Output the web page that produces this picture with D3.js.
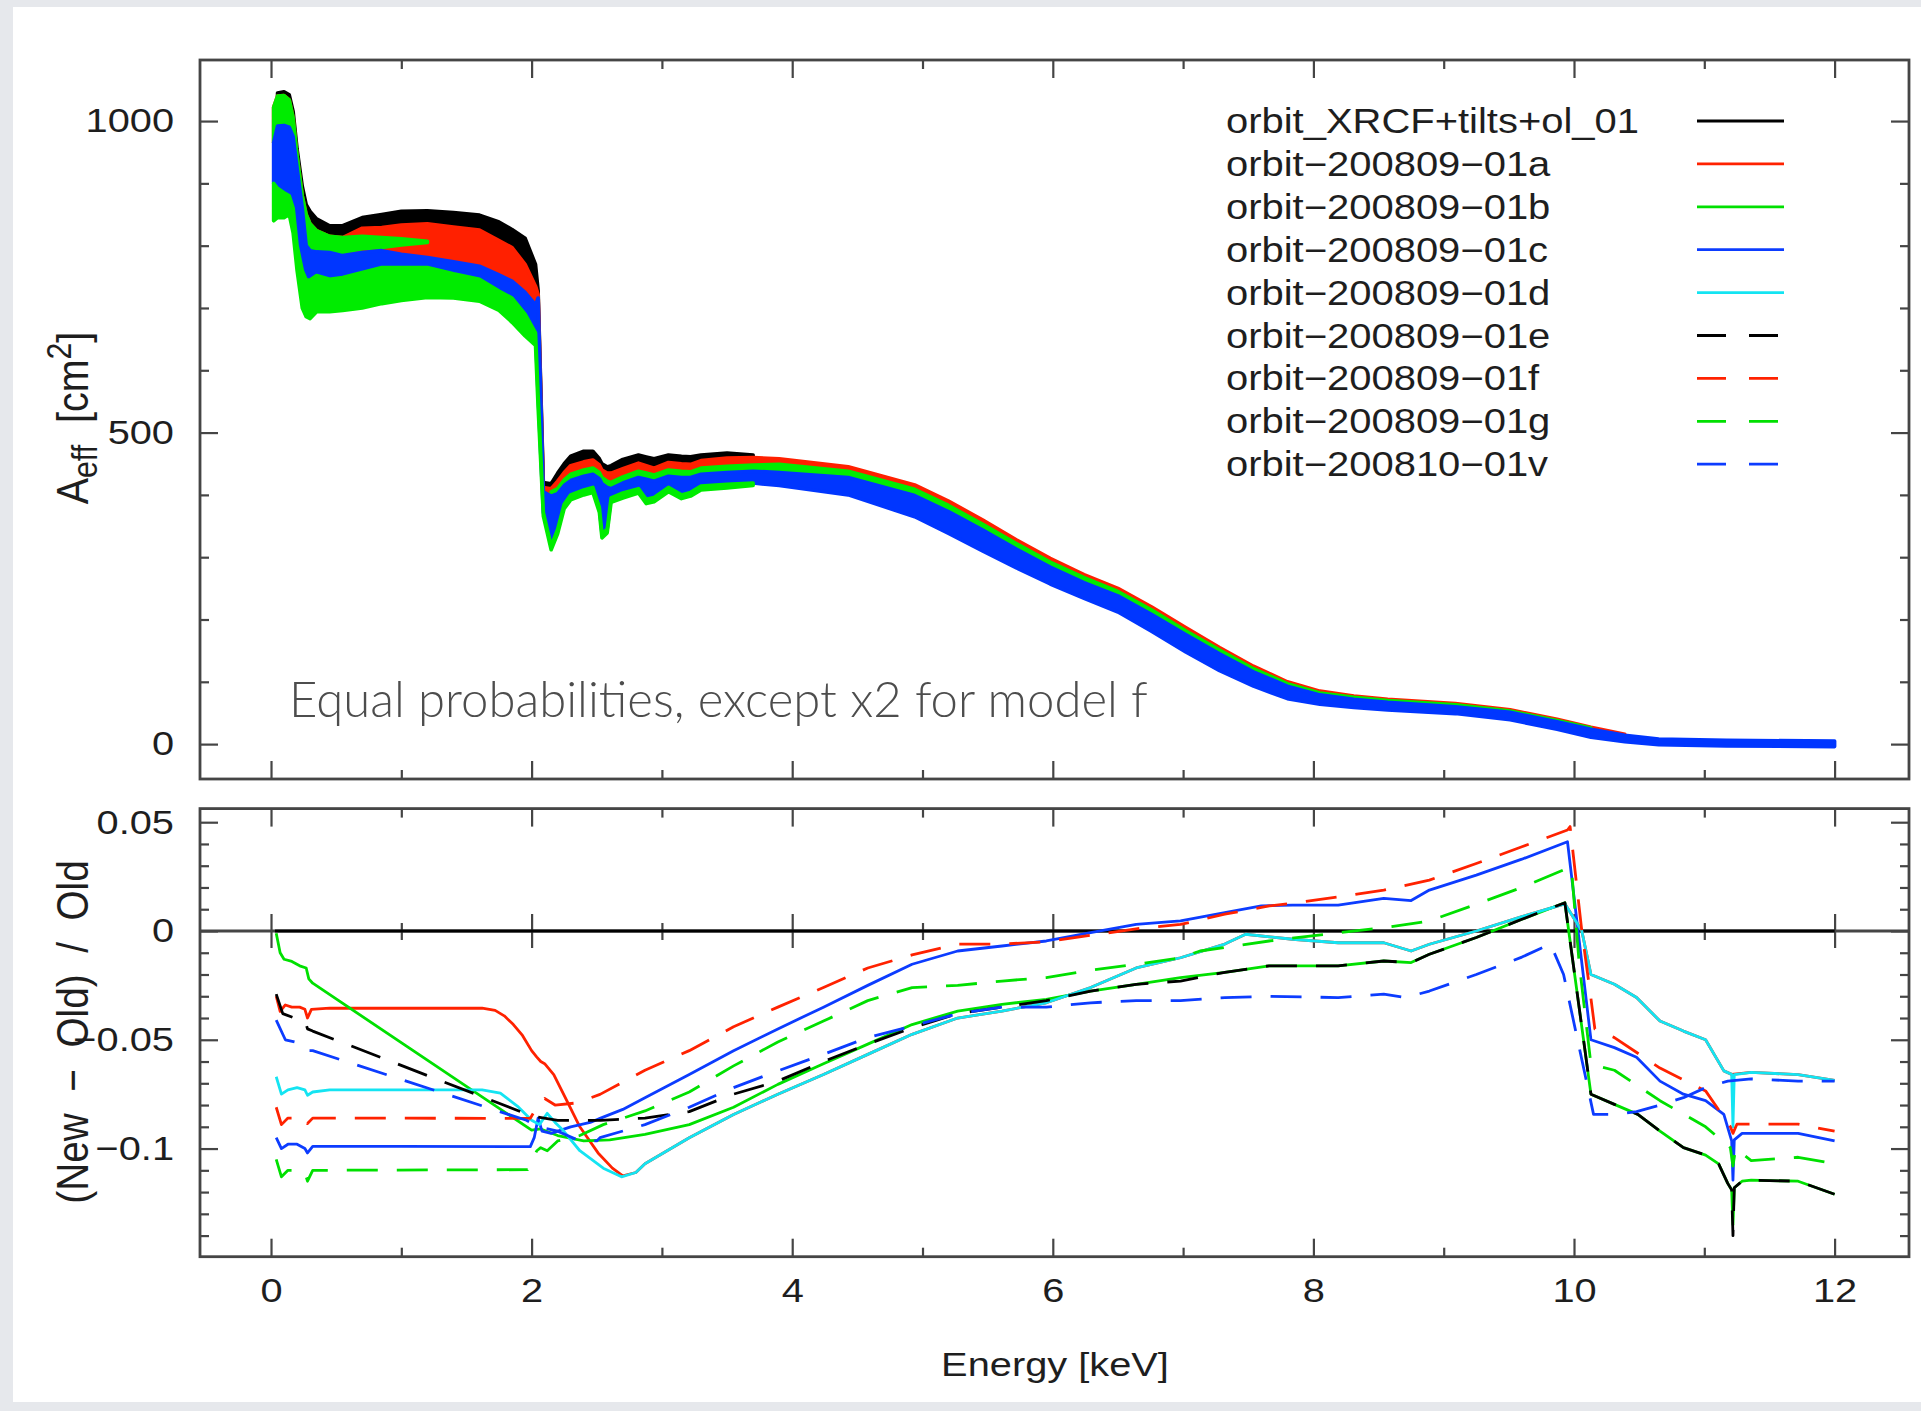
<!DOCTYPE html>
<html>
<head>
<meta charset="utf-8">
<script src="https://cdn.jsdelivr.net/npm/d3@7"></script>
<style>
  html, body { margin: 0; padding: 0; background: #e6e8ec; }
  svg { display: block; }
</style>
</head>
<body>
<svg id="chart" width="1921" height="1411"></svg>
<script>
// ---------------------------------------------------------------
// Effective area bands (cm^2) on a shared energy grid (keV).
// Each band is the region between two edges; drawn back to front.
// ---------------------------------------------------------------
const energyGrid = [0.02,0.05,0.10,0.14,0.17,0.20,0.24,0.27,0.30,0.35,0.45,0.55,0.70,0.85,1.00,1.20,1.40,1.60,1.75,1.85,1.95,2.03,2.05,2.09,2.15,2.20,2.25,2.30,2.40,2.47,2.52,2.54,2.58,2.61,2.70,2.82,2.88,2.94,3.05,3.15,3.22,3.30,3.50,3.70,3.90,4.43,4.94,5.20,5.46,5.72,5.98,6.24,6.50,6.76,7.02,7.28,7.54,7.80,8.05,8.31,8.57,9.09,9.51,9.87,10.13,10.39,10.65,11.17,12.00];

// upper edge of the black band
const aeffTopEdge = [1022,1045,1047,1042,1015,955,895,866,855,843,832,832,845,850,855,856,853,849,838,826,812,770,728,420,418,435,450,462,470,470,458,450,445,447,457,464,461,458,464,462,461,464,467,464,458,445,416,390,360,328,298,272,250,220,187,155,125,100,85,77,72,65,55,40,27,16,9,6,5];
// black / red boundary
const aeffBlackRed = [1022,1040,1041,1034,1005,945,880,850,835,824,815,813,828,829,833,835,830,825,808,797,770,735,722,412,410,422,436,447,453,456,448,440,435,435,442,451,447,443,452,450,449,455,459,460,458,445,416,390,360,328,298,272,250,220,187,155,125,100,85,77,72,65,55,40,27,16,9,6,5];
// red / blue boundary
const aeffRedBlue = [965,992,993,990,975,925,860,800,792,790,789,784,789,792,786,781,774,767,753,743,725,705,716,405,398,402,415,423,430,433,426,418,412,410,419,428,425,422,430,428,428,433,436,438,436,428,399,373,344,313,284,259,238,208,176,145,116,93,79,72,67,60,51,36,24,14,8,6,5];
// green strip (model b) upper and lower edges
const aeffStripHigh = [1022,1040,1041,1034,1005,945,880,850,835,824,815,813,815,813,811,807,774,767,753,743,725,705,716,405,405,410,424,433,440,443,436,428,422,420,429,438,435,432,440,438,437,443,446,448,449,438,409,383,353,322,292,267,245,215,182,151,121,97,82,75,70,63,53,38,26,15,8,6,5];
const aeffStripLow = [965,992,993,990,975,925,860,800,792,790,789,789,795,797,801,805,774,767,753,743,725,705,716,405,398,402,415,423,430,433,426,418,412,410,419,428,425,422,430,428,428,433,436,438,436,428,399,373,344,313,284,259,238,208,176,145,116,93,79,72,67,60,51,36,24,14,8,6,5];
// blue / lower green boundary
const aeffBlueGreen = [900,892,885,880,860,800,760,745,745,752,746,749,757,765,765,765,755,746,727,716,690,660,560,372,318,345,385,400,408,412,380,338,345,395,403,410,393,396,412,400,404,414,417,419,415,400,365,338,310,283,257,234,212,181,148,118,93,73,64,59,55,49,39,24,11,4,-1,-3,-4];
// lower edge of the lower green band
const aeffBottomEdge = [840,845,845,850,820,760,700,686,683,694,694,696,700,707,712,717,716,711,696,677,655,640,540,366,312,338,378,392,400,404,372,331,339,388,395,403,386,389,405,394,398,408,411,415,414,400,365,338,310,283,257,234,212,181,148,118,93,73,64,59,55,49,39,24,11,4,-1,-3,-4];

// ---------------------------------------------------------------
// Relative difference (New - Old) / Old per model, [keV, ratio]
// ---------------------------------------------------------------
const ratioOld = [[0.03,0],[12.0,0]];
const ratioA = [[0.04,-0.030],[0.07,-0.037],[0.11,-0.034],[0.16,-0.035],[0.22,-0.035],[0.26,-0.036],[0.28,-0.040],[0.31,-0.036],[0.45,-0.0355],[1.00,-0.0355],[1.62,-0.0355],[1.72,-0.0365],[1.79,-0.039],[1.86,-0.043],[1.93,-0.048],[2.00,-0.055],[2.04,-0.058],[2.07,-0.060],[2.10,-0.061],[2.17,-0.066],[2.27,-0.078],[2.37,-0.090],[2.51,-0.102],[2.62,-0.109],[2.70,-0.1125],[2.80,-0.111],[2.87,-0.107],[3.21,-0.095],[3.55,-0.0843],[3.89,-0.075],[4.24,-0.066],[4.58,-0.0567],[4.92,-0.0475],[5.27,-0.040],[5.61,-0.0368],[5.95,-0.033],[6.29,-0.026],[6.64,-0.017],[6.98,-0.0123],[7.32,-0.006],[7.48,-0.0015],[7.84,-0.0038],[8.19,-0.0054],[8.54,-0.0054],[8.75,-0.0092],[8.89,-0.0061],[9.25,0.0],[9.60,0.0066],[9.93,0.0125],[10.06,0.0],[10.13,-0.020],[10.31,-0.0245],[10.48,-0.0306],[10.66,-0.0414],[10.84,-0.046],[11.01,-0.050],[11.15,-0.0643],[11.21,-0.0659],[11.36,-0.065],[11.72,-0.066],[12.0,-0.0687]];
const ratioB = [[0.04,-0.001],[0.07,-0.010],[0.10,-0.013],[0.16,-0.014],[0.22,-0.016],[0.27,-0.017],[0.29,-0.022],[0.32,-0.024],[2.00,-0.0915],[2.07,-0.091],[2.20,-0.094],[2.40,-0.0965],[2.60,-0.096],[2.87,-0.0935],[3.21,-0.089],[3.55,-0.081],[3.89,-0.0705],[4.24,-0.061],[4.58,-0.052],[4.92,-0.043],[5.27,-0.0368],[5.61,-0.0337],[5.95,-0.0314],[6.29,-0.0276],[6.64,-0.0245],[6.98,-0.0214],[7.32,-0.019],[7.66,-0.016],[8.19,-0.016],[8.54,-0.0138],[8.75,-0.0145],[8.89,-0.0107],[9.25,-0.003],[9.60,0.0054],[9.93,0.013],[10.13,-0.075],[10.31,-0.0797],[10.49,-0.0843],[10.66,-0.092],[10.84,-0.0996],[11.01,-0.103],[11.11,-0.107],[11.18,-0.116],[11.21,-0.119],[11.22,-0.135],[11.23,-0.118],[11.29,-0.115],[11.36,-0.1145],[11.72,-0.115],[12.0,-0.121]];
const ratioC = [[0.04,-0.095],[0.08,-0.100],[0.13,-0.098],[0.20,-0.098],[0.26,-0.100],[0.28,-0.102],[0.32,-0.099],[1.00,-0.099],[1.99,-0.0991],[2.02,-0.095],[2.05,-0.086],[2.08,-0.092],[2.15,-0.093],[2.30,-0.090],[2.45,-0.088],[2.53,-0.086],[2.70,-0.082],[2.87,-0.0766],[3.21,-0.066],[3.55,-0.055],[3.89,-0.045],[4.24,-0.035],[4.58,-0.025],[4.92,-0.0153],[5.27,-0.0092],[5.61,-0.0069],[5.95,-0.0046],[6.29,-0.0008],[6.64,0.003],[6.98,0.0046],[7.32,0.0084],[7.60,0.0115],[7.84,0.0119],[8.19,0.0119],[8.54,0.015],[8.75,0.014],[8.89,0.0188],[9.25,0.0257],[9.60,0.033],[9.95,0.041],[10.13,-0.050],[10.31,-0.0536],[10.48,-0.058],[10.66,-0.069],[10.84,-0.075],[11.01,-0.078],[11.15,-0.0843],[11.21,-0.0965],[11.22,-0.1145],[11.23,-0.096],[11.29,-0.093],[11.72,-0.093],[12.0,-0.0965]];
const ratioD = [[0.04,-0.067],[0.08,-0.075],[0.13,-0.073],[0.20,-0.072],[0.26,-0.073],[0.28,-0.0755],[0.32,-0.074],[0.45,-0.073],[1.62,-0.073],[1.76,-0.0745],[1.90,-0.081],[2.00,-0.087],[2.06,-0.089],[2.12,-0.0838],[2.18,-0.088],[2.24,-0.0915],[2.37,-0.101],[2.55,-0.109],[2.69,-0.113],[2.80,-0.111],[2.87,-0.107],[3.21,-0.095],[3.55,-0.0843],[3.89,-0.075],[4.24,-0.066],[4.58,-0.0567],[4.92,-0.0475],[5.27,-0.040],[5.61,-0.0368],[5.95,-0.033],[6.29,-0.026],[6.64,-0.017],[6.98,-0.0123],[7.32,-0.006],[7.48,-0.0015],[7.84,-0.0038],[8.19,-0.0054],[8.54,-0.0054],[8.75,-0.0092],[8.89,-0.0061],[9.25,0.0],[9.60,0.0066],[9.93,0.0125],[10.06,0.0],[10.13,-0.020],[10.31,-0.0245],[10.48,-0.0306],[10.66,-0.0414],[10.84,-0.046],[11.01,-0.050],[11.15,-0.0643],[11.21,-0.0659],[11.22,-0.090],[11.23,-0.066],[11.36,-0.065],[11.72,-0.066],[12.0,-0.0687]];
const ratioE = [[0.04,-0.029],[0.09,-0.038],[0.18,-0.040],[0.26,-0.041],[0.28,-0.045],[0.32,-0.046],[2.00,-0.085],[2.20,-0.087],[2.53,-0.087],[2.87,-0.086],[3.21,-0.083],[3.55,-0.075],[3.89,-0.069],[4.24,-0.060],[4.58,-0.052],[4.92,-0.0445],[5.27,-0.038],[5.61,-0.035],[5.95,-0.032],[6.29,-0.0276],[6.64,-0.0245],[6.98,-0.023],[7.32,-0.019],[7.66,-0.016],[8.19,-0.016],[8.54,-0.0138],[8.75,-0.0145],[8.89,-0.0107],[9.25,-0.003],[9.60,0.0054],[9.93,0.013],[10.13,-0.075],[10.31,-0.0797],[10.49,-0.0843],[10.66,-0.092],[10.84,-0.0996],[11.01,-0.103],[11.11,-0.107],[11.18,-0.116],[11.21,-0.119],[11.22,-0.140],[11.23,-0.118],[11.29,-0.115],[11.36,-0.1145],[11.72,-0.115],[12.0,-0.121]];
const ratioF = [[0.04,-0.081],[0.08,-0.089],[0.13,-0.086],[0.22,-0.086],[0.26,-0.086],[0.28,-0.0885],[0.32,-0.086],[1.99,-0.0861],[2.05,-0.080],[2.10,-0.077],[2.18,-0.080],[2.35,-0.079],[2.525,-0.0751],[2.87,-0.064],[3.21,-0.055],[3.55,-0.044],[3.89,-0.035],[4.24,-0.026],[4.58,-0.017],[4.92,-0.011],[5.27,-0.006],[5.61,-0.006],[5.95,-0.005],[6.29,-0.002],[6.64,0.001],[6.98,0.003],[7.32,0.0077],[7.66,0.0115],[7.84,0.0127],[8.19,0.0157],[8.54,0.0188],[8.89,0.0234],[9.25,0.031],[9.60,0.0387],[9.95,0.0464],[9.97,0.048],[10.06,0.0],[10.13,-0.031],[10.16,-0.045],[10.31,-0.049],[10.66,-0.063],[11.01,-0.0735],[11.20,-0.090],[11.22,-0.093],[11.25,-0.0888],[11.72,-0.0888],[12.0,-0.092]];
const ratioG = [[0.04,-0.105],[0.08,-0.113],[0.13,-0.110],[0.22,-0.110],[0.26,-0.111],[0.28,-0.115],[0.32,-0.110],[1.97,-0.1097],[2.04,-0.101],[2.07,-0.0996],[2.12,-0.101],[2.20,-0.0965],[2.37,-0.094],[2.55,-0.089],[2.87,-0.0827],[3.21,-0.074],[3.55,-0.062],[3.89,-0.051],[4.24,-0.0414],[4.58,-0.032],[4.92,-0.026],[5.27,-0.025],[5.61,-0.023],[5.95,-0.0214],[6.29,-0.018],[6.64,-0.0153],[6.98,-0.0123],[7.13,-0.0092],[7.66,-0.0046],[8.19,-0.0008],[8.54,0.0015],[8.89,0.0046],[9.25,0.0123],[9.60,0.020],[9.95,0.0288],[9.98,0.029],[10.04,-0.015],[10.13,-0.0613],[10.31,-0.064],[10.66,-0.078],[11.01,-0.090],[11.20,-0.0996],[11.22,-0.108],[11.24,-0.100],[11.36,-0.1055],[11.72,-0.104],[12.0,-0.107]];
const ratioV = [[0.04,-0.041],[0.11,-0.050],[0.25,-0.052],[0.28,-0.055],[0.32,-0.055],[1.96,-0.087],[2.05,-0.090],[2.20,-0.092],[2.37,-0.0965],[2.50,-0.0965],[2.525,-0.095],[2.87,-0.089],[3.21,-0.081],[3.55,-0.072],[3.89,-0.0643],[4.24,-0.0567],[4.58,-0.049],[4.92,-0.0437],[5.27,-0.038],[5.61,-0.035],[5.95,-0.035],[6.29,-0.033],[6.64,-0.032],[6.98,-0.032],[7.32,-0.0306],[7.66,-0.030],[8.19,-0.0306],[8.54,-0.029],[8.71,-0.0306],[8.89,-0.0276],[9.25,-0.020],[9.60,-0.012],[9.82,-0.006],[9.92,-0.020],[10.15,-0.0843],[10.31,-0.0843],[10.48,-0.083],[10.66,-0.080],[10.84,-0.0766],[11.01,-0.072],[11.18,-0.069],[11.36,-0.068],[11.72,-0.069],[12.0,-0.069]];

const modelNames = [
  "orbit_XRCF+tilts+ol_01",
  "orbit\u2212200809\u221201a",
  "orbit\u2212200809\u221201b",
  "orbit\u2212200809\u221201c",
  "orbit\u2212200809\u221201d",
  "orbit\u2212200809\u221201e",
  "orbit\u2212200809\u221201f",
  "orbit\u2212200809\u221201g",
  "orbit\u2212200810\u221201v"
];

// tick values
const energyMajorTicks = [0, 2, 4, 6, 8, 10, 12];
const energyMinorTicks = [1, 3, 5, 7, 9, 11];
const aeffMajorTicks = [0, 500, 1000];
const aeffMinorTicks = [100, 200, 300, 400, 600, 700, 800, 900];
const ratioMajorTicks = [0.05, 0, -0.05, -0.1];
const ratioMinorTicks = [0.04, 0.03, 0.02, 0.01, -0.01, -0.02, -0.03, -0.04, -0.06, -0.07, -0.08, -0.09, -0.11, -0.12, -0.13, -0.14];

const noteText = "Equal probabilities, except x2 for model f";

// ---------------------------------------------------------------
// styling
// ---------------------------------------------------------------
const C = { black: "#000000", red: "#ff2200", green: "#00e000", blue: "#0c3cff", cyan: "#14e4f2" };
const bandColors = { black: "#000000", red: "#ff2000", green: "#00ec00", blue: "#0036ff" };
const seriesStyle = [
  { color: C.black, dashed: false },
  { color: C.red,   dashed: false },
  { color: C.green, dashed: false },
  { color: C.blue,  dashed: false },
  { color: C.cyan,  dashed: false },
  { color: C.black, dashed: true },
  { color: C.red,   dashed: true },
  { color: C.green, dashed: true },
  { color: C.blue,  dashed: true }
];
const ratioSeries = [ratioOld, ratioA, ratioB, ratioC, ratioD, ratioE, ratioF, ratioG, ratioV];
const FONT = "'Liberation Sans', Arial, Helvetica, sans-serif";
const TEXT_STRETCH = 1.17;
const AXIS_COLOR = "#454545";

const W = 1921, H = 1411;
const svg = d3.select("#chart");

// page and sheet
svg.append("rect").attr("width", W).attr("height", H).attr("fill", "#e6e8ec");
svg.append("rect").attr("x", 13).attr("y", 7).attr("width", W - 13).attr("height", 1395).attr("fill", "#ffffff");

// panel geometry
const plotLeft = 200, plotRight = 1909;
const topPanel = { top: 60, bottom: 779 };
const botPanel = { top: 808.6, bottom: 1256.7 };

const x = d3.scaleLinear().domain([-0.545, 12.571]).range([plotLeft, plotRight]);
const yA = d3.scaleLinear().domain([-56, 1098]).range([topPanel.bottom, topPanel.top]);
const yR = d3.scaleLinear().domain([-0.1497, 0.05625]).range([botPanel.bottom, botPanel.top]);

// ---------------------------------------------------------------
// top panel: effective-area bands (thick point markers give the
// bands a rounded outline, reproduced with a same-colour stroke)
// ---------------------------------------------------------------
const bands = [
  { lo: aeffBlackRed,   hi: aeffTopEdge,    color: bandColors.black },
  { lo: aeffRedBlue,    hi: aeffBlackRed,   color: bandColors.red },
  { lo: aeffStripLow,   hi: aeffStripHigh,  color: bandColors.green },
  { lo: aeffBlueGreen,  hi: aeffRedBlue,    color: bandColors.blue },
  { lo: aeffBottomEdge, hi: aeffBlueGreen,  color: bandColors.green }
];
const bandArea = d3.area()
  .defined(d => d.hi - d.lo > 1.5)
  .x(d => x(d.e)).y0(d => yA(d.lo)).y1(d => yA(d.hi));
const gBands = svg.append("g");
bands.forEach(b => {
  const pts = energyGrid.map((e, i) => ({ e, lo: b.lo[i], hi: b.hi[i] }));
  gBands.append("path").attr("d", bandArea(pts)).attr("fill", b.color)
    .attr("stroke", b.color).attr("stroke-width", 3.6).attr("stroke-linejoin", "round");
});

// ---------------------------------------------------------------
// axes helpers
// ---------------------------------------------------------------
function styleAxis(g) {
  g.select(".domain").remove();
  g.attr("font-family", FONT).attr("font-size", 34);
  g.selectAll(".tick line").attr("stroke", AXIS_COLOR).attr("stroke-width", 2.2);
  g.selectAll(".tick text").attr("fill", "#1e1e1e");
}
function addAxis(axis, tx, ty) {
  return svg.append("g").attr("transform", `translate(${tx},${ty})`).call(axis).call(styleAxis);
}

// top panel ticks
addAxis(d3.axisBottom(x).tickValues(energyMajorTicks).tickSize(-18).tickSizeOuter(0).tickFormat(""), 0, topPanel.bottom);
addAxis(d3.axisBottom(x).tickValues(energyMinorTicks).tickSize(-9).tickSizeOuter(0).tickFormat(""), 0, topPanel.bottom);
addAxis(d3.axisTop(x).tickValues(energyMajorTicks).tickSize(-18).tickSizeOuter(0).tickFormat(""), 0, topPanel.top);
addAxis(d3.axisTop(x).tickValues(energyMinorTicks).tickSize(-9).tickSizeOuter(0).tickFormat(""), 0, topPanel.top);
const aeffAxis = addAxis(d3.axisLeft(yA).tickValues(aeffMajorTicks).tickSize(-18).tickSizeOuter(0).tickPadding(26).tickFormat(d3.format("d")), plotLeft, 0);
addAxis(d3.axisLeft(yA).tickValues(aeffMinorTicks).tickSize(-9).tickSizeOuter(0).tickFormat(""), plotLeft, 0);
addAxis(d3.axisRight(yA).tickValues(aeffMajorTicks).tickSize(-18).tickSizeOuter(0).tickFormat(""), plotRight, 0);
addAxis(d3.axisRight(yA).tickValues(aeffMinorTicks).tickSize(-9).tickSizeOuter(0).tickFormat(""), plotRight, 0);

// bottom panel ticks
addAxis(d3.axisTop(x).tickValues(energyMajorTicks).tickSize(-18).tickSizeOuter(0).tickFormat(""), 0, botPanel.top);
addAxis(d3.axisTop(x).tickValues(energyMinorTicks).tickSize(-9).tickSizeOuter(0).tickFormat(""), 0, botPanel.top);
const energyAxis = addAxis(d3.axisBottom(x).tickValues(energyMajorTicks).tickSize(-18).tickSizeOuter(0).tickPadding(21).tickFormat(d3.format("d")), 0, botPanel.bottom);
addAxis(d3.axisBottom(x).tickValues(energyMinorTicks).tickSize(-9).tickSizeOuter(0).tickFormat(""), 0, botPanel.bottom);
const ratioFmt = d => d === 0 ? "0" : d3.format(".2~f")(d);
const ratioAxis = addAxis(d3.axisLeft(yR).tickValues(ratioMajorTicks).tickSize(-18).tickSizeOuter(0).tickPadding(26).tickFormat(ratioFmt), plotLeft, 0);
addAxis(d3.axisLeft(yR).tickValues(ratioMinorTicks).tickSize(-9).tickSizeOuter(0).tickFormat(""), plotLeft, 0);
addAxis(d3.axisRight(yR).tickValues(ratioMajorTicks).tickSize(-18).tickSizeOuter(0).tickFormat(""), plotRight, 0);
addAxis(d3.axisRight(yR).tickValues(ratioMinorTicks).tickSize(-9).tickSizeOuter(0).tickFormat(""), plotRight, 0);

// zero axis of the ratio panel, with ticks on both sides
svg.append("line").attr("x1", plotLeft).attr("x2", plotRight).attr("y1", yR(0)).attr("y2", yR(0))
  .attr("stroke", AXIS_COLOR).attr("stroke-width", 2.8);
addAxis(d3.axisBottom(x).tickValues(energyMajorTicks).tickSize(17).tickSizeOuter(0).tickFormat(""), 0, yR(0));
addAxis(d3.axisTop(x).tickValues(energyMajorTicks).tickSize(17).tickSizeOuter(0).tickFormat(""), 0, yR(0));
addAxis(d3.axisBottom(x).tickValues(energyMinorTicks).tickSize(9).tickSizeOuter(0).tickFormat(""), 0, yR(0));
addAxis(d3.axisTop(x).tickValues(energyMinorTicks).tickSize(8).tickSizeOuter(0).tickFormat(""), 0, yR(0));

// ---------------------------------------------------------------
// bottom panel: ratio curves
// ---------------------------------------------------------------
svg.append("defs").append("clipPath").attr("id", "ratioClip")
  .append("rect").attr("x", plotLeft).attr("y", botPanel.top)
  .attr("width", plotRight - plotLeft).attr("height", botPanel.bottom - botPanel.top);
const ratioLine = d3.line().x(d => x(d[0])).y(d => yR(d[1]));
const gLines = svg.append("g").attr("clip-path", "url(#ratioClip)");
ratioSeries.forEach((data, i) => {
  const st = seriesStyle[i];
  gLines.append("path").attr("d", ratioLine(data))
    .attr("fill", "none").attr("stroke", st.color).attr("stroke-width", 2.8)
    .attr("stroke-linejoin", "round")
    .attr("stroke-dasharray", st.dashed ? "31,19" : null);
});

// panel frames
[topPanel, botPanel].forEach(p => {
  svg.append("rect").attr("x", plotLeft).attr("y", p.top)
    .attr("width", plotRight - plotLeft).attr("height", p.bottom - p.top)
    .attr("fill", "none").attr("stroke", AXIS_COLOR).attr("stroke-width", 2.8);
});

// ---------------------------------------------------------------
// text
// ---------------------------------------------------------------
function stretch(sel, factor) {
  sel.each(function () {
    const len = this.getComputedTextLength();
    d3.select(this).attr("textLength", len * factor).attr("lengthAdjust", "spacingAndGlyphs");
  });
}
stretch(aeffAxis.selectAll(".tick text"), TEXT_STRETCH);
stretch(ratioAxis.selectAll(".tick text"), TEXT_STRETCH);
stretch(energyAxis.selectAll(".tick text"), TEXT_STRETCH);

// legend
const legend = svg.append("g").attr("font-family", FONT).attr("font-size", 34.5).attr("fill", "#1e1e1e");
modelNames.forEach((name, i) => {
  const cy = 121 + i * 42.9;
  legend.append("text").attr("x", 1226).attr("y", cy + 12).text(name);
  legend.append("line").attr("x1", 1697).attr("x2", seriesStyle[i].dashed ? 1779 : 1784)
    .attr("y1", cy).attr("y2", cy)
    .attr("stroke", seriesStyle[i].color).attr("stroke-width", 2.8)
    .attr("stroke-dasharray", seriesStyle[i].dashed ? "29,23" : null);
});
(function () {
  const texts = legend.selectAll("text");
  const first = texts.node().getComputedTextLength();
  stretch(texts, 413 / first);
})();

// x axis title
const xTitle = svg.append("text").attr("x", 1055).attr("y", 1376)
  .attr("text-anchor", "middle").attr("font-family", FONT).attr("font-size", 34).attr("fill", "#1e1e1e")
  .text("Energy  [keV]");
stretch(xTitle, TEXT_STRETCH);

// y axis titles (rotated)
const aeffTitle = svg.append("text")
  .attr("transform", "translate(88,418) rotate(-90) scale(1.16,1.32)")
  .attr("text-anchor", "middle").attr("font-family", FONT).attr("font-size", 34).attr("fill", "#1e1e1e");
aeffTitle.append("tspan").text("A");
aeffTitle.append("tspan").attr("dy", 7).attr("font-size", 26).text("eff");
aeffTitle.append("tspan").attr("dy", -7).text("\u00a0\u00a0[cm");
aeffTitle.append("tspan").attr("dy", -13).attr("font-size", 26).text("2");
aeffTitle.append("tspan").attr("dy", 13).text("]");

svg.append("text")
  .attr("transform", "translate(88,1032) rotate(-90) scale(1.14,1.32)")
  .attr("text-anchor", "middle").attr("font-family", FONT).attr("font-size", 34).attr("fill", "#1e1e1e")
  .text("(New\u00a0\u00a0\u2212\u00a0\u00a0Old)\u00a0\u00a0/\u00a0\u00a0Old");

// annotation
const note = svg.append("text").attr("x", 289).attr("y", 717)
  .attr("font-family", "Lato, 'Open Sans', sans-serif").attr("font-weight", 300)
  .attr("font-size", 46).attr("fill", "#4d4d4d").text(noteText);
(function () {
  const len = note.node().getComputedTextLength();
  note.attr("font-size", 46 * 859 / len);
})();
</script>
</body>
</html>
